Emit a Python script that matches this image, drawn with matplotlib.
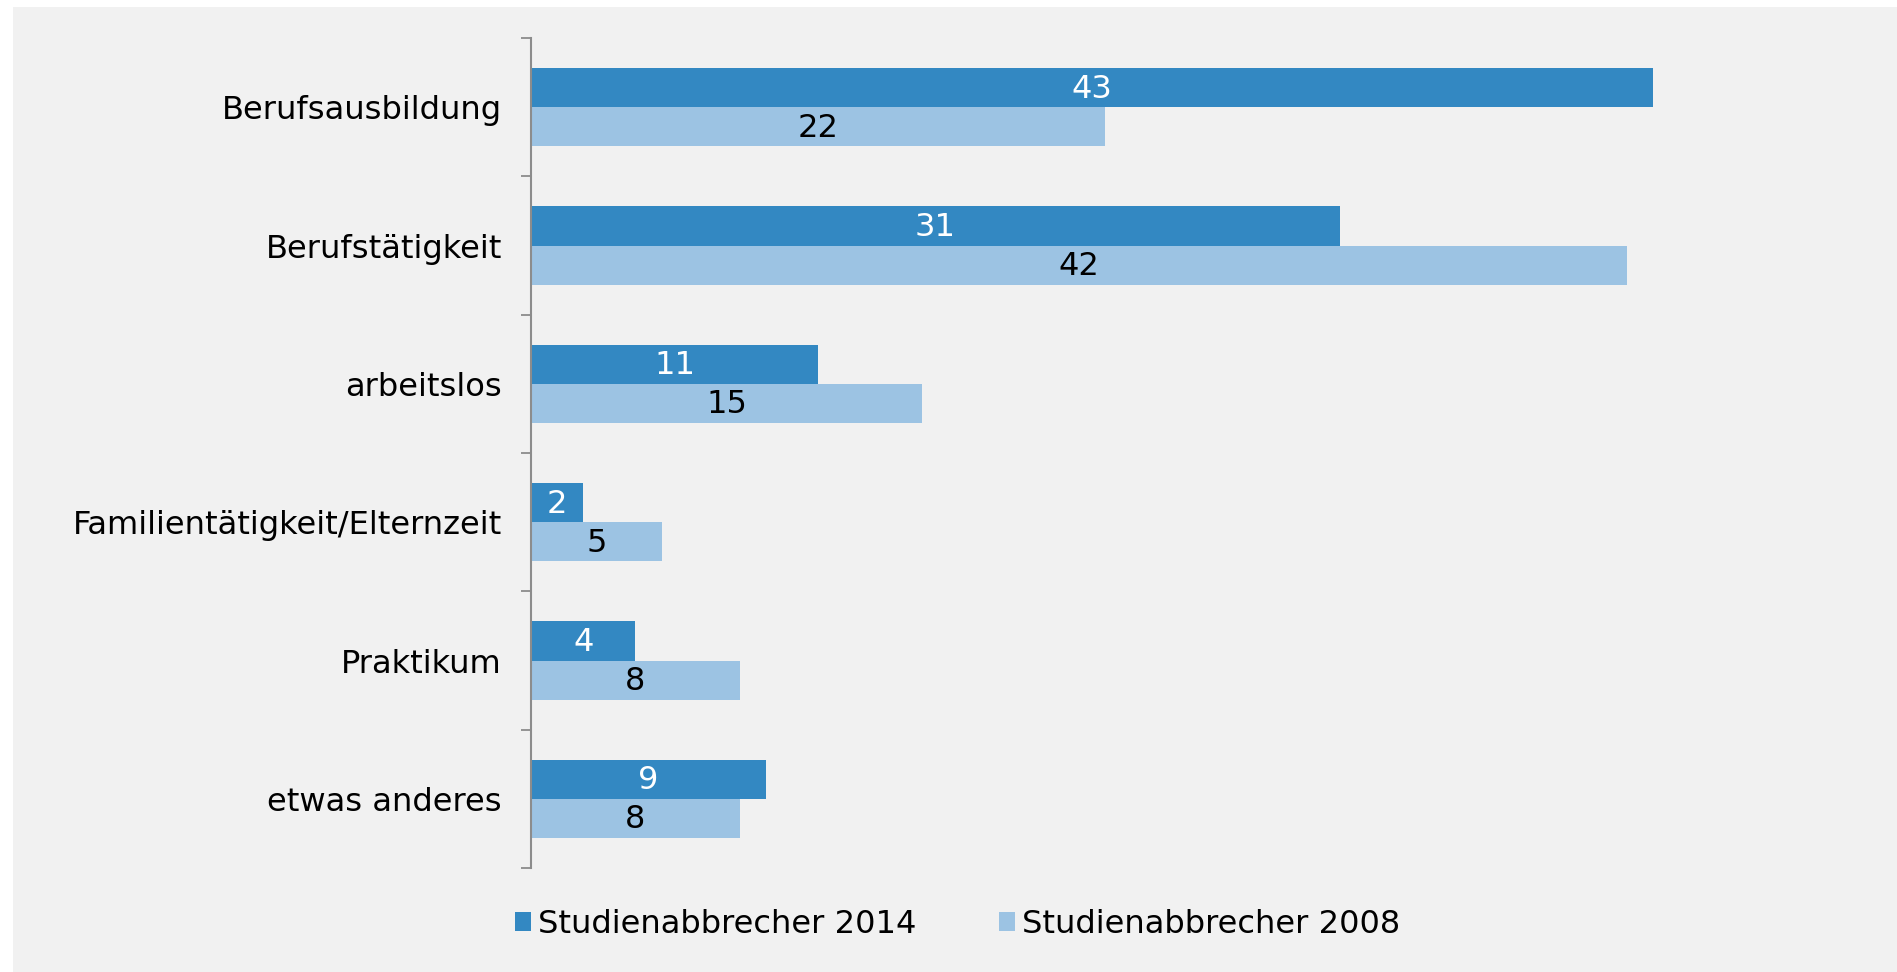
import matplotlib
matplotlib.use("Agg")
import matplotlib.pyplot as plt
import numpy as np
from matplotlib.patches import Rectangle, Patch

categories = ["Berufsausbildung", "Berufstätigkeit", "arbeitslos",
              "Familientätigkeit/Elternzeit", "Praktikum", "etwas anderes"]
values_2014 = [43, 31, 11, 2, 4, 9]
values_2008 = [22, 42, 15, 5, 8, 8]
series_names = ["Studienabbrecher 2014", "Studienabbrecher 2008"]

c_dark = "#3388c2"
c_light = "#9cc3e3"
bg = "#f1f1f1"
fs = 23.1

plt.rcParams['font.family'] = ['DejaVu Sans']

W, H = 1897, 972
fig = plt.figure(figsize=(W / 100, H / 100), dpi=100)
fig.patch.set_facecolor("white")
fig.patches.append(Rectangle((13 / W, 0), 1 - 13 / W, 1 - 7 / H, transform=fig.transFigure,
                             facecolor=bg, edgecolor="none", zorder=-10))

left = 531 / W
right = (531 + 26.1 * 50) / W
bottom = 1 - 868 / H
top = 1 - 38 / H
ax = fig.add_axes([left, bottom, right - left, top - bottom])
ax.set_facecolor("none")

y = np.arange(len(categories))
h = 0.282
b1 = ax.barh(y - h / 2, values_2014, height=h, color=c_dark, label=series_names[0])
b2 = ax.barh(y + h / 2, values_2008, height=h, color=c_light, label=series_names[1])

for bars, vals, col in ((b1, values_2014, "white"), (b2, values_2008, "black")):
    for rect, v in zip(bars, vals):
        ax.text(rect.get_x() + rect.get_width() / 2, rect.get_y() + rect.get_height() / 2 + 0.01,
                str(v), ha="center", va="center", color=col, fontsize=fs)

ax.set_xlim(0, 50)
ax.set_ylim(len(categories) - 0.5, -0.5)
ax.set_yticks(y)
ax.set_yticklabels(categories, fontsize=fs)
ax.set_yticks(np.arange(-0.5, len(categories)), minor=True)
ax.tick_params(axis="y", which="major", length=0, pad=21)
ax.tick_params(axis="y", which="minor", length=7.2, width=1.3, color="#8c8c8c")
ax.set_xticks([])
for s in ("top", "right", "bottom"):
    ax.spines[s].set_visible(False)
ax.spines["left"].set_color("#8c8c8c")
ax.spines["left"].set_linewidth(1.5)

handles = [Patch(facecolor=c_dark, edgecolor="none"), Patch(facecolor=c_light, edgecolor="none")]
fig.legend(handles, series_names, loc="center", bbox_to_anchor=(0.5048, 1 - 924 / H), ncol=2,
           frameon=False, fontsize=fs, handlelength=0.5, handleheight=0.53,
           handletextpad=0.22, columnspacing=2.55)

fig.savefig("out.png", dpi=100, facecolor=fig.get_facecolor())
